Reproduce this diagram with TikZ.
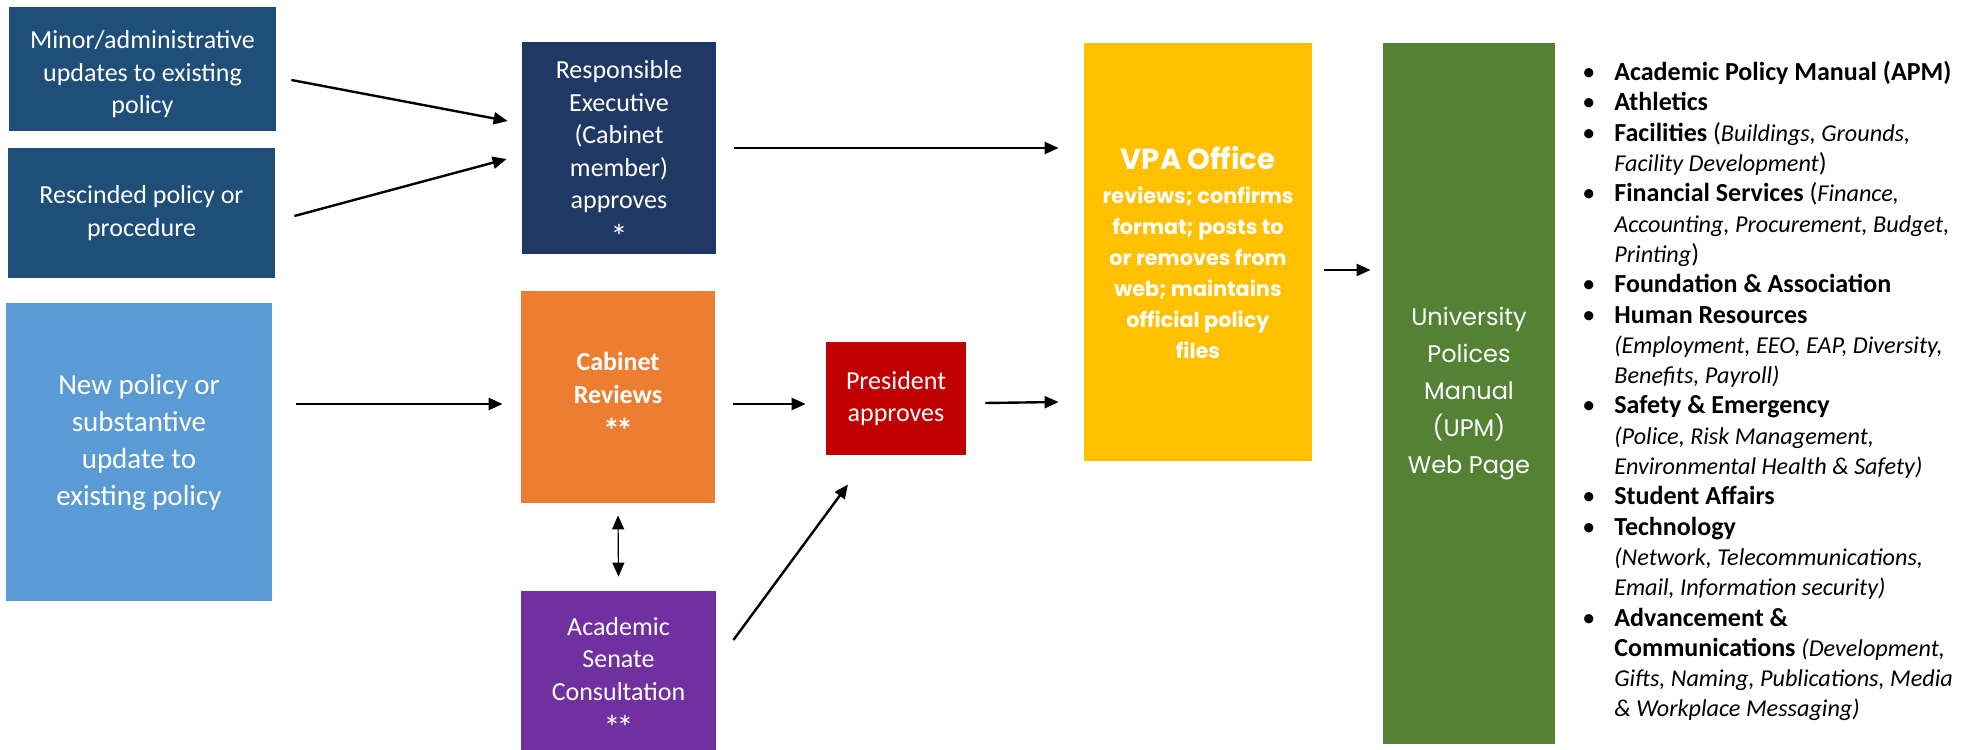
\documentclass[tikz,border=0pt]{standalone}
\usepackage{fontspec}
\setmainfont{Carlito}
\newfontfamily\gothicfont{Poppins}
\usepackage{tikz}
\usetikzlibrary{arrows.meta}
\usetikzlibrary{positioning}
\definecolor{stepblue}{HTML}{1F4E79}
\definecolor{newblue}{HTML}{5B9BD5}
\definecolor{execnavy}{HTML}{203864}
\definecolor{cabinetorange}{HTML}{ED7D31}
\definecolor{senatepurple}{HTML}{7030A0}
\definecolor{presred}{HTML}{C00000}
\definecolor{vpagold}{HTML}{FFC000}
\definecolor{upmgreen}{HTML}{548235}
\newcommand\starmark[1]{\smash{\raisebox{-3.5pt}{\fontsize{17}{16}\selectfont #1}}}
\newcommand\unitnote[1]{{\fontsize{12.1}{15.15}\selectfont\itshape #1}}
\tikzset{
    >={Triangle[length=7pt,width=6pt]},
    policybox/.style={fill=#1, text=white, inner sep=0pt, align=center,
        font=\fontsize{13}{16.25}\selectfont},
    flow/.style={->, draw=black, line width=1.2pt},
    twoway/.style={<->, draw=black, line width=0.6pt},
}

\begin{document}
\begin{tikzpicture}[x=0.5pt, y=-0.5pt]
	\useasboundingbox (0,0) rectangle (1978,750);
	% where a change starts
	\node[policybox=stepblue, minimum width=133.5pt, minimum height=62pt] (minor) at (142.5,69) {\rule{0pt}{14.5pt}Minor/administrative\\updates to existing\\policy};
	\node[policybox=stepblue, minimum width=133.5pt, minimum height=65pt] (rescind) at (141.5,213) {Rescinded policy or\\procedure};
	\node[policybox=newblue, minimum width=133pt, minimum height=149pt, font=\fontsize{14.5}{18.5}\selectfont] (newpol) at (139,452) {New policy or\\substantive\\update to\\existing policy\rule[-12.5pt]{0pt}{0pt}};
	% approvals
	\node[policybox=execnavy, minimum width=97pt, minimum height=106pt] (exec) at (619,148) {\rule{0pt}{11.75pt}Responsible\\Executive\\(Cabinet\\member)\\approves\\\starmark{*}};
	\node[policybox=cabinetorange, minimum width=97pt, minimum height=106pt, font=\fontsize{13}{16.25}\selectfont\bfseries] (cabinet) at (618,397) {Cabinet\\Reviews\\\starmark{*\kern-2pt*}\rule[-3pt]{0pt}{0pt}};
	\node[policybox=senatepurple, minimum width=97.5pt, minimum height=79.5pt] (senate) at (618.5,670.5) {\rule{0pt}{13.5pt}Academic\\Senate\\Consultation\\\starmark{*\kern-2pt*}};
	\node[policybox=presred, minimum width=70pt, minimum height=56.5pt] (president) at (896,398.5) {President\\approves};
	\node[policybox=vpagold, minimum width=114pt, minimum height=209pt, font=\gothicfont\bfseries\fontsize{10.4}{15.5}\selectfont] (vpa) at (1198,252) {{\fontsize{14.5}{18}\selectfont VPA Office}\\[1.5pt]reviews; confirms\\format; posts to\\or removes from\\web; maintains\\official policy\\files};
	\node[policybox=upmgreen, minimum width=86pt, minimum height=350.5pt, font=\gothicfont\fontsize{12}{18.5}\selectfont] (upm) at (1469,393.5) {University\\Polices\\Manual\\(UPM)\\Web Page};
	\node[anchor=north west, inner sep=0pt, align=left, font=\fontsize{13}{15.15}\selectfont] (units) at (1582,59) {%
		\begin{tabular}{@{}p{16pt}@{}l@{}}
		\textbullet & \textbf{Academic Policy Manual (APM)}\\
		\textbullet & \textbf{Athletics}\\
		\textbullet & \textbf{Facilities} (\unitnote{Buildings, Grounds,}\\
		 & \unitnote{Facility Development})\\
		\textbullet & \textbf{Financial Services} (\unitnote{Finance,}\\
		 & \unitnote{Accounting, Procurement, Budget,}\\
		 & \unitnote{Printing})\\
		\textbullet & \textbf{Foundation \& Association}\\
		\textbullet & \textbf{Human Resources}\\
		 & \unitnote{(Employment, EEO, EAP, Diversity,}\\
		 & \unitnote{Benefits, Payroll)}\\
		\textbullet & \textbf{Safety \& Emergency}\\
		 & \unitnote{(Police, Risk Management,}\\
		 & \unitnote{Environmental Health \& Safety)}\\
		\textbullet & \textbf{Student Affairs}\\
		\textbullet & \textbf{Technology}\\
		 & \unitnote{(Network, Telecommunications,}\\
		 & \unitnote{Email, Information security)}\\
		\textbullet & \textbf{Advancement \&}\\
		 & \textbf{Communications} \unitnote{(Development,}\\
		 & \unitnote{Gifts, Naming, Publications, Media}\\
		 & \unitnote{\& Workplace Messaging)}\\
		\end{tabular}};
	% arrows
	\draw[flow] ([xshift=7.5pt,yshift=-5.5pt]minor.east) -- ([xshift=-7pt,yshift=13.5pt]exec.west);
	\draw[flow] ([xshift=9.5pt,yshift=-1.5pt]rescind.east) -- ([xshift=-7.5pt,yshift=-5.5pt]exec.west);
	\draw[flow] ([xshift=12pt,yshift=24pt]newpol.east) -- ([xshift=-9pt,yshift=-3.5pt]cabinet.west);
	\draw[flow] ([xshift=9pt]exec.east) -- ([xshift=-12.5pt,yshift=52pt]vpa.west);
	\draw[flow] ([xshift=9pt,yshift=-3.5pt]cabinet.east) -- ([xshift=-10pt,yshift=-2.75pt]president.west);
	\draw[flow] ([xshift=9.5pt,yshift=-2.25pt]president.east) -- ([xshift=-12.5pt,yshift=-75pt]vpa.west);
	\draw[flow] ([xshift=8.5pt,yshift=15.25pt]senate.east) -- ([xshift=-24pt,yshift=-14.5pt]president.south);
	\draw[twoway] ([yshift=-6pt]cabinet.south) -- ([yshift=7pt]senate.north);
	\draw[flow] ([xshift=6pt,yshift=-9pt]vpa.east) -- ([xshift=-6pt,yshift=61.75pt]upm.west);
\end{tikzpicture}
\end{document}
